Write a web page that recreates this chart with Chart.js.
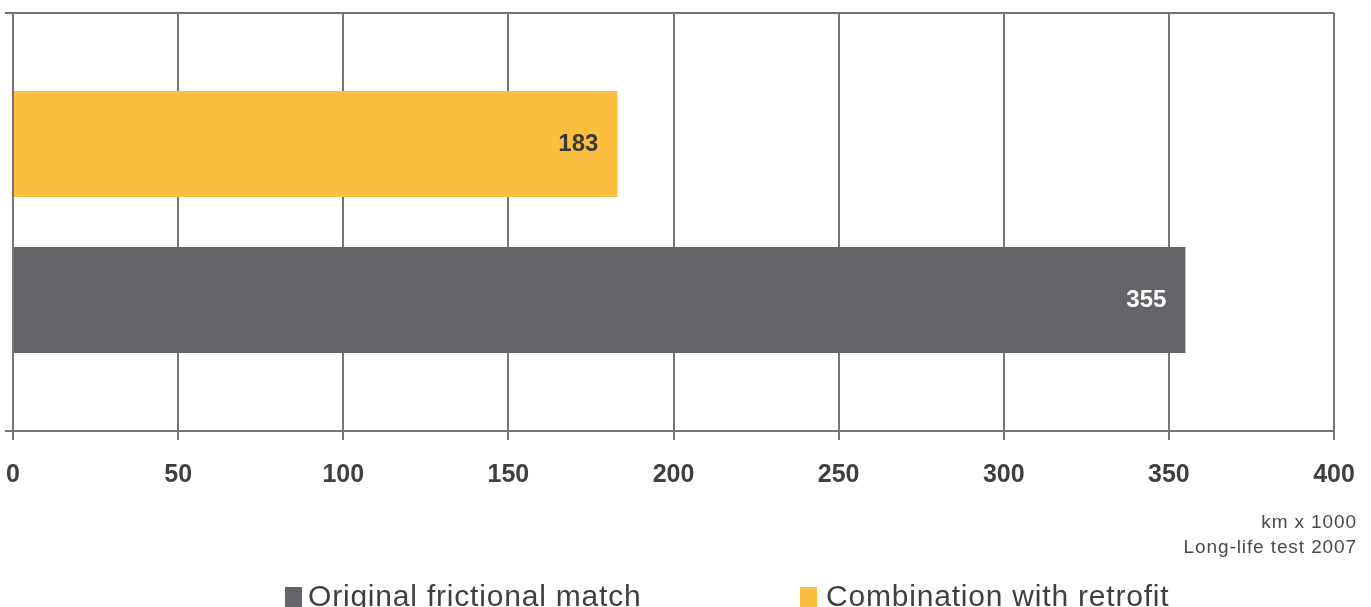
<!DOCTYPE html>
<html>
<head>
<meta charset="utf-8">
<script src="https://cdn.jsdelivr.net/npm/chart.js@4"></script>
<style>
  html, body { margin: 0; padding: 0; background: #fff; overflow: hidden; }
  #wrap { position: relative; width: 1371px; height: 607px; font-family: 'Liberation Sans', Arial, sans-serif; color: #3f3f3f; }
  #note { position: absolute; right: 14px; top: 509px; font-size: 19px; line-height: 25px; text-align: right; letter-spacing: 0.9px; color: #4a4a4a; }
  .lg-box { position: absolute; top: 587px; width: 17px; height: 20px; }
  .lg-text { position: absolute; top: 581px; font-size: 30px; line-height: 30px; letter-spacing: 0.8px; white-space: nowrap; color: #3f3f3f; }
</style>
</head>
<body>
<div id="wrap">
  <canvas id="chart"></canvas>
  <div id="note">km x 1000<br>Long-life test 2007</div>
  <span class="lg-box" style="left:285px;background:#636468"></span>
  <span class="lg-text" style="left:308px">Original frictional match</span>
  <span class="lg-box" style="left:800px;background:#fbbf40"></span>
  <span class="lg-text" style="left:826px">Combination with retrofit</span>
</div>
<script>
const categories = [''];
const retrofitValues = [183];
const originalValues = [355];
const xTicks = [0, 50, 100, 150, 200, 250, 300, 350, 400];

const COLORS = {
  yellow: '#fbbf40',
  gray: '#636468',
  grid: '#767676',
  text: '#3f3f3f',
};

// value printed inside the end of each bar
const valueLabels = {
  id: 'valueLabels',
  afterDatasetsDraw(chart) {
    const ctx = chart.ctx;
    chart.data.datasets.forEach((ds, i) => {
      chart.getDatasetMeta(i).data.forEach((bar, j) => {
        ctx.save();
        ctx.font = 'bold 24px "Liberation Sans", Arial, sans-serif';
        ctx.fillStyle = ds.labelColor;
        ctx.textAlign = 'right';
        ctx.textBaseline = 'middle';
        ctx.fillText(String(ds.data[j]), bar.x - 19, bar.y);
        ctx.restore();
      });
    });
  }
};

new Chart(document.getElementById('chart'), {
  type: 'bar',
  data: {
    labels: categories,
    datasets: [
      {
        label: 'Combination with retrofit',
        data: retrofitValues,
        backgroundColor: COLORS.yellow,
        labelColor: '#3a3a3a',
        borderWidth: 0,
      },
      {
        label: 'Original frictional match',
        data: originalValues,
        backgroundColor: COLORS.gray,
        labelColor: '#ffffff',
        borderWidth: 0,
      },
    ],
  },
  options: {
    indexAxis: 'y',
    responsive: true,
    maintainAspectRatio: false,
    animation: false,
    datasets: { bar: { categoryPercentage: 0.746, barPercentage: 0.68 } },
    layout: { padding: { top: 13, left: 5, right: 37, bottom: 97 } },
    plugins: {
      legend: { display: false },
      tooltip: { enabled: false },
    },
    scales: {
      x: {
        min: 0,
        max: 400,
        afterBuildTicks: axis => { axis.ticks = xTicks.map(v => ({ value: v })); },
        afterFit: axis => { axis.paddingLeft = 0; axis.paddingRight = 0; },
        grid: { color: COLORS.grid, lineWidth: 2, tickLength: 9 },
        border: { color: COLORS.grid, width: 2 },
        ticks: {
          color: COLORS.text,
          padding: 20,
          maxRotation: 0,
          font: { family: '"Liberation Sans", Arial, sans-serif', size: 25, weight: 'bold' },
        },
      },
      y: {
        afterFit: axis => { axis.width = 8; },
        grid: { offset: true, color: COLORS.grid, lineWidth: 2, tickLength: 8 },
        border: { color: COLORS.grid, width: 2 },
        ticks: { display: false },
      },
    },
  },
  plugins: [valueLabels],
});
</script>
</body>
</html>
